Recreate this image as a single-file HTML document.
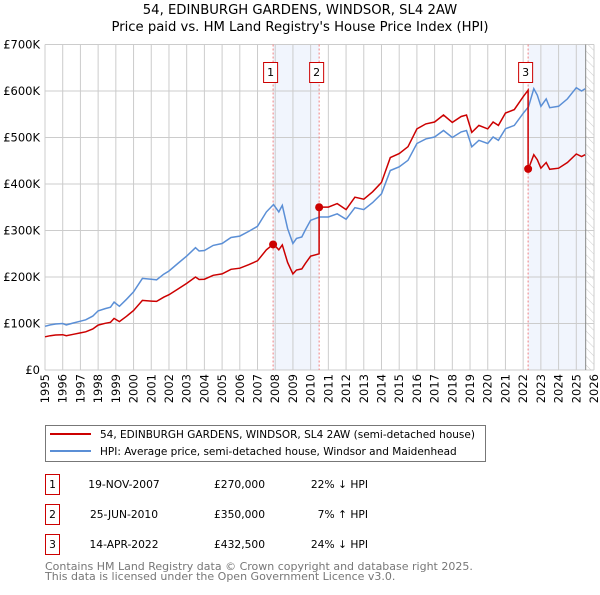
<!DOCTYPE html>
<html><head><meta charset="utf-8"><style>
body{margin:0;background:#fff;}
svg text{font-family:"DejaVu Sans","Liberation Sans",sans-serif;}
</style></head><body>
<svg id="c" width="600" height="590" xmlns="http://www.w3.org/2000/svg">
<defs><pattern id="hatch" width="6" height="6" patternUnits="userSpaceOnUse" patternTransform="rotate(-45)"><line x1="0" y1="0" x2="0" y2="6" stroke="#ccc" stroke-width="1"/></pattern></defs>
<text x="300" y="14" text-anchor="middle" font-size="13.2" fill="#000">54, EDINBURGH GARDENS, WINDSOR, SL4 2AW</text>
<text x="300" y="31" text-anchor="middle" font-size="13.2" fill="#000">Price paid vs. HM Land Registry's House Price Index (HPI)</text>
<g id="plot"></g>
<g>
<rect x="45.5" y="425.5" width="440" height="36" fill="#fff" stroke="#777"/>
<line x1="50" y1="434" x2="91" y2="434" stroke="#cc0000" stroke-width="2"/>
<text x="100" y="438" font-size="10.5">54, EDINBURGH GARDENS, WINDSOR, SL4 2AW (semi-detached house)</text>
<line x1="50" y1="451" x2="91" y2="451" stroke="#5b8fd6" stroke-width="2"/>
<text x="100" y="455" font-size="10.5">HPI: Average price, semi-detached house, Windsor and Maidenhead</text>
</g>
<g id="table" font-size="10.7"></g>
<text x="45" y="570" font-size="11" fill="#777">Contains HM Land Registry data © Crown copyright and database right 2025.</text>
<text x="45" y="580" font-size="11" fill="#777">This data is licensed under the Open Government Licence v3.0.</text>
</svg>
<script>
const hpiYears=[1995,1995.3,1995.6,1996,1996.2,1996.6,1997,1997.3,1997.7,1998,1998.4,1998.7,1998.9,1999.2,1999.6,2000,2000.5,2001,2001.3,2001.7,2002,2002.5,2003,2003.5,2003.7,2004,2004.5,2005,2005.5,2006,2006.5,2007,2007.5,2007.9,2008.2,2008.4,2008.7,2009,2009.2,2009.5,2009.7,2010,2010.5,2011,2011.5,2012,2012.5,2013,2013.5,2014,2014.5,2015,2015.5,2016,2016.5,2017,2017.5,2018,2018.5,2018.8,2019.1,2019.5,2020,2020.3,2020.6,2021,2021.5,2022,2022.3,2022.6,2022.8,2023,2023.3,2023.5,2024,2024.5,2025,2025.3,2025.5];
const hpiValues=[94,97,99,100,97,101,105,108,116,127,132,135,146,137,152,168,197,195,194,206,213,229,245,263,256,257,268,272,285,288,298,309,340,356,340,354,304,272,283,286,301,322,329,329,336,324,349,345,360,379,429,437,451,487,497,501,515,500,512,515,480,494,487,501,494,519,526,552,566,605,591,567,583,564,567,583,607,600,605];
const saleLabels=["1","2","3"];
const saleDates=[2007.88,2010.48,2022.28];
const salePrices=[270000,350000,432500];
const saleDateText=["19-NOV-2007","25-JUN-2010","14-APR-2022"];
const salePriceText=["£270,000","£350,000","£432,500"];
const saleHpiText=["22% ↓ HPI","7% ↑ HPI","24% ↓ HPI"];
const yTicks=[0,100,200,300,400,500,600,700];
const yTickLabels=["£0","£100K","£200K","£300K","£400K","£500K","£600K","£700K"];
const xTicks=[1995,1996,1997,1998,1999,2000,2001,2002,2003,2004,2005,2006,2007,2008,2009,2010,2011,2012,2013,2014,2015,2016,2017,2018,2019,2020,2021,2022,2023,2024,2025,2026];
const dataEnd=2025.53;

const L=45,R=594,T=44.5,B=370;
const X=y=>L+(y-1995)/(2026-1995)*(R-L);
const Y=v=>B-v/700*(B-T);
const NS="http://www.w3.org/2000/svg";
const plot=document.getElementById('plot');
function mk(tag,attrs,parent){const e=document.createElementNS(NS,tag);for(const k in attrs)e.setAttribute(k,attrs[k]);(parent||plot).appendChild(e);return e;}
function hpiAt(t){for(let i=0;i<hpiYears.length-1;i++){if(t<=hpiYears[i+1]){const f=(t-hpiYears[i])/(hpiYears[i+1]-hpiYears[i]);return hpiValues[i]+f*(hpiValues[i+1]-hpiValues[i]);}}return hpiValues[hpiValues.length-1];}

let e;
e=mk('rect',{x:X(saleDates[0]),y:T,width:X(saleDates[1])-X(saleDates[0]),height:B-T,fill:'#f1f5fd'});

e=mk('rect',{x:X(saleDates[2]),y:T,width:X(dataEnd)-X(saleDates[2]),height:B-T,fill:'#f1f5fd'});

e=mk('rect',{x:X(dataEnd),y:T,width:R-X(dataEnd),height:B-T,fill:'url(#hatch)'});

yTicks.forEach((v,i)=>{
 e=mk('line',{x1:L,x2:R,y1:Y(v),y2:Y(v),stroke:'#ccc','stroke-width':1});
 
 e=mk('text',{x:L-5,y:Y(v)+4,'text-anchor':'end','font-size':11.5});e.textContent=yTickLabels[i];
 
});
xTicks.forEach(t=>{
 e=mk('line',{x1:X(t),x2:X(t),y1:T,y2:B,stroke:'#ccc','stroke-width':1});
 
 e=mk('text',{x:0,y:0,'font-size':11.5,transform:`translate(${X(t)+4},${B+4}) rotate(-90)`,'text-anchor':'end'});e.textContent=t;
 
});
e=mk('line',{x1:X(dataEnd),x2:X(dataEnd),y1:T,y2:B,stroke:'#888','stroke-width':1});

saleDates.forEach((d,i)=>{
 e=mk('line',{x1:X(d),x2:X(d),y1:T,y2:B,stroke:'#f08080','stroke-width':1,'stroke-dasharray':'2,2'});
 
});
const hp=hpiYears.map((t,i)=>X(t).toFixed(1)+','+Y(hpiValues[i]).toFixed(1)).join(' ');
e=mk('polyline',{points:hp,fill:'none',stroke:'#5b8fd6','stroke-width':1.5});

const pts=[];
function ratioFor(k){return salePrices[k]/1000/hpiAt(saleDates[k]);}
const times=hpiYears.concat(saleDates).sort((a,b)=>a-b);
times.forEach(t=>{
 let k=0;for(let j=0;j<saleDates.length;j++)if(t>=saleDates[j])k=j;
 if(saleDates.includes(t)&&t>saleDates[0]){const kp=saleDates.indexOf(t)-1;pts.push([t,hpiAt(t)*ratioFor(kp)]);}
 pts.push([t,hpiAt(t)*ratioFor(k)]);
});
e=mk('polyline',{points:pts.map(p=>X(p[0]).toFixed(1)+','+Y(p[1]).toFixed(1)).join(' '),fill:'none',stroke:'#cc0000','stroke-width':1.5});

saleDates.forEach((d,i)=>{
 e=mk('circle',{cx:X(d),cy:Y(salePrices[i]/1000),r:4,fill:'#cc0000'});
 
 const bx=X(d)-10;
 e=mk('rect',{x:bx+0.5,y:62.5,width:14,height:20,fill:'#fff',stroke:'#cc0000'});
 
 e=mk('text',{x:bx+7.5,y:76,'text-anchor':'middle','font-size':11});e.textContent=saleLabels[i];
 
});
const tb=document.getElementById('table');
saleLabels.forEach((s,i)=>{
 const y=483+i*30;
 e=mk('rect',{x:45.5,y:y-8.5,width:14,height:20,fill:'#fff',stroke:'#cc0000'},tb);
 
 e=mk('text',{x:52.5,y:y+5,'text-anchor':'middle'},tb);e.textContent=s;
 
 e=mk('text',{x:124,y:y+5,'text-anchor':'middle'},tb);e.textContent=saleDateText[i];
 
 e=mk('text',{x:265,y:y+5,'text-anchor':'end'},tb);e.textContent=salePriceText[i];
 
 e=mk('text',{x:368,y:y+5,'text-anchor':'end'},tb);e.textContent=saleHpiText[i];
 
});
</script>
</body></html>
